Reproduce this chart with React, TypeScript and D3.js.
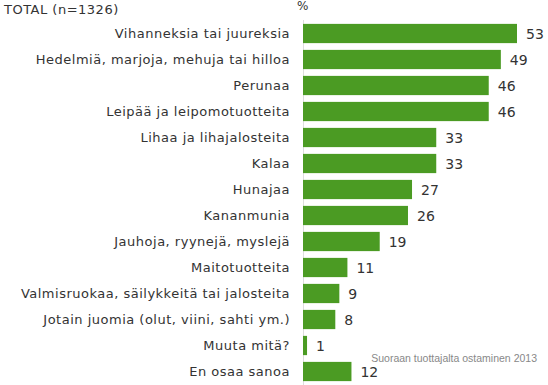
import React, { useEffect, useRef } from 'react';
import * as d3 from 'd3';

const categories = [
  'Vihanneksia tai juureksia',
  'Hedelmiä, marjoja, mehuja tai hilloa',
  'Perunaa',
  'Leipää ja leipomotuotteita',
  'Lihaa ja lihajalosteita',
  'Kalaa',
  'Hunajaa',
  'Kananmunia',
  'Jauhoja, ryynejä, myslejä',
  'Maitotuotteita',
  'Valmisruokaa, säilykkeitä tai jalosteita',
  'Jotain juomia (olut, viini, sahti ym.)',
  'Muuta mitä?',
  'En osaa sanoa',
];
const values = [53, 49, 46, 46, 33, 33, 27, 26, 19, 11, 9, 8, 1, 12];

const title = 'TOTAL (n=1326)';
const unit = '%';
const source = 'Suoraan tuottajalta ostaminen 2013';

const W = 548;
const H = 385;
const font = 'DejaVu Sans, Verdana, sans-serif';

export default function App() {
  const ref = useRef<SVGSVGElement>(null);

  useEffect(() => {
    const svg = d3.select(ref.current);
    svg.selectAll('*').remove();

    const x0 = 303;
    const x = d3.scaleLinear().domain([0, 53]).range([x0, 517]);
    const y = d3
      .scaleBand<string>()
      .domain(categories)
      .range([20.5, 384.5])
      .paddingInner(0.26)
      .paddingOuter(0.13);

    svg.append('text')
      .attr('x', 4)
      .attr('y', 14)
      .attr('font-family', font)
      .attr('font-size', 13)
      .attr('letter-spacing', 0.5)
      .attr('fill', '#333')
      .text(title);

    svg.append('text')
      .attr('x', 297)
      .attr('y', 10)
      .attr('font-family', font)
      .attr('font-size', 12)
      .attr('fill', '#333')
      .text(unit);

    svg.append('line')
      .attr('x1', x0 + 0.5)
      .attr('x2', x0 + 0.5)
      .attr('y1', 20)
      .attr('y2', H)
      .attr('stroke', '#ddd');

    const rows = svg.append('g')
      .selectAll('g')
      .data(values)
      .enter()
      .append('g');

    rows.append('rect')
      .attr('x', x0)
      .attr('y', (d, i) => y(categories[i]) as number)
      .attr('width', d => x(d) - x0)
      .attr('height', y.bandwidth())
      .attr('fill', '#4b9b23');

    rows.append('text')
      .attr('x', 290)
      .attr('y', (d, i) => (y(categories[i]) as number) + y.bandwidth() / 2)
      .attr('dy', '0.35em')
      .attr('text-anchor', 'end')
      .attr('font-family', font)
      .attr('font-size', 13)
      .attr('letter-spacing', 0.5)
      .attr('fill', '#333')
      .text((d, i) => categories[i]);

    rows.append('text')
      .attr('x', d => x(d) + 9)
      .attr('y', (d, i) => (y(categories[i]) as number) + y.bandwidth() / 2)
      .attr('dy', '0.38em')
      .attr('font-family', font)
      .attr('font-size', 14)
      .attr('fill', '#333')
      .text(d => d);

    svg.append('text')
      .attr('x', 537)
      .attr('y', 362)
      .attr('text-anchor', 'end')
      .attr('font-family', 'Liberation Sans, Arial, sans-serif')
      .attr('font-size', 10.5)
      .attr('fill', '#888')
      .text(source);
  }, []);

  return (
    <svg
      ref={ref}
      width={W}
      height={H}
      style={{ position: 'absolute', left: 0, top: 0, background: '#fff' }}
    />
  );
}
